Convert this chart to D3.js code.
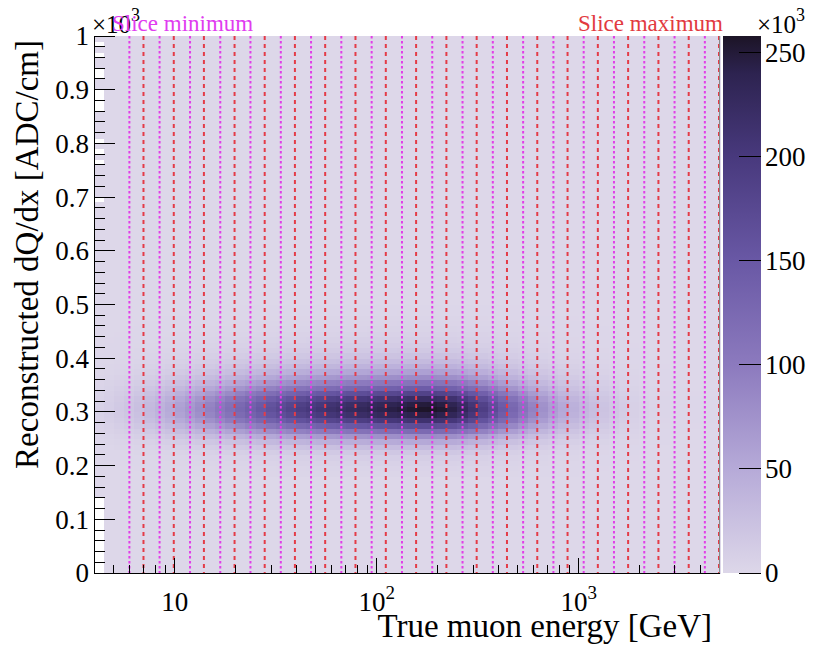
<!DOCTYPE html>
<html>
<head>
<meta charset="utf-8">
<script src="https://cdn.jsdelivr.net/npm/d3@7"></script>
<style>
  body { margin: 0; background: #fff; }
  svg { display: block; }
  svg text { font-family: "Liberation Serif", "DejaVu Serif", serif; }
</style>
</head>
<body>
<svg id="chart" width="814" height="645"></svg>
<script>
// slice boundaries [GeV]
var sliceMin = [5.96, 8.41, 11.9, 16.8, 23.7, 33.5, 47.3, 66.8, 94.4, 133.4,
                188.4, 266.1, 375.8, 530.9, 749.9, 1059, 1496, 2113, 2985, 4217];
var sliceMax = [7.08, 10.0, 14.1, 20.0, 28.2, 39.8, 56.2, 79.4, 112.2, 158.5,
                223.9, 316.2, 446.7, 631.0, 891.3, 1259, 1778, 2512, 3548, 5012];

// counts (x10^3) in the peak dQ/dx row, one per energy column (0.05 decades wide, from 10^0.6)
var energyProfile = [6, 10, 15, 20, 26, 33, 41, 50, 60, 70,
                     81, 92, 104, 116, 128, 140, 152, 163, 174, 184,
                     193, 201, 208, 215, 221, 226, 231, 236, 240, 244,
                     248, 252, 256, 257, 253, 244, 230, 212, 191, 170,
                     149, 129, 110, 92, 77, 63, 52, 43, 35, 28,
                     22, 17, 12, 8, 5, 3, 2, 1.2, 0.8, 0.5, 0.5, 0.5];

// relative shape along dQ/dx, rows of 10 ADC/cm starting at row 18 (180 ADC/cm)
var dqdxFirstRow = 18;
var dqdxShape = [0.01, 0.015, 0.025, 0.04, 0.07, 0.12, 0.2, 0.32, 0.48, 0.66,
                 0.83, 0.95, 1.0, 0.97, 0.87, 0.72, 0.56, 0.43, 0.32, 0.235,
                 0.17, 0.125, 0.09, 0.065, 0.048, 0.035, 0.025, 0.018, 0.012, 0.008,
                 0.005, 0.003];

var backgroundLevel = 0.25;
// empty rows in the lowest energy column
var emptyFirstColumn = [0, 1, 2, 3, 4, 5, 6, 7, 8, 9, 10, 11, 12, 13,
                        69, 76, 78, 80, 86, 87, 88, 89, 92, 93, 96, 98];

var zMax = 258;
var zTicks = [0, 50, 100, 150, 200, 250];
var yTicks = [0, 0.1, 0.2, 0.3, 0.4, 0.5, 0.6, 0.7, 0.8, 0.9, 1];
var xMajor = [10, 100, 1000];

// palette stops (value x10^3 -> colour)
var paletteValues = [0, 50, 100, 150, 200, 240, 258];
var paletteColors = ["#ddd7e9", "#b6aad8", "#8c7abe", "#6958a5", "#48397d", "#2d2350", "#1c1426"];

var svg = d3.select("#chart");
var pLeft = 94, pRight = 720, pTop = 36, pBottom = 573;

var x = d3.scaleLog().domain([Math.pow(10, 0.6), Math.pow(10, 3.7)]).range([pLeft, pRight]);
var y = d3.scaleLinear().domain([0, 1000]).range([pBottom, pTop]);
var z = d3.scaleLinear().domain(paletteValues).range(paletteColors).interpolate(d3.interpolateRgb).clamp(true);

// build the cells
var cells = [];
var nRows = 100;
for (var i = 0; i < energyProfile.length; i++) {
  for (var j = 0; j < nRows; j++) {
    if (i == 0 && emptyFirstColumn.indexOf(j) >= 0) continue;
    var k = j - dqdxFirstRow;
    var w = (k >= 0 && k < dqdxShape.length) ? dqdxShape[k] : 0;
    cells.push({ i: i, j: j, v: backgroundLevel + energyProfile[i] * w });
  }
}

var colX0 = function(i) { return x(Math.pow(10, 0.6 + 0.05 * i)); };

svg.append("g")
  .attr("shape-rendering", "crispEdges")
  .selectAll("rect")
  .data(cells)
  .enter().append("rect")
  .attr("x", function(d) { return colX0(d.i); })
  .attr("width", function(d) { return colX0(d.i + 1) - colX0(d.i) + 0.5; })
  .attr("y", function(d) { return y((d.j + 1) * 10); })
  .attr("height", function(d) { return y(d.j * 10) - y((d.j + 1) * 10) + 0.5; })
  .attr("fill", function(d) { return z(d.v); });

// slice lines
svg.append("g").selectAll("line")
  .data(sliceMin)
  .enter().append("line")
  .attr("x1", function(d) { return x(d); }).attr("x2", function(d) { return x(d); })
  .attr("y1", pTop).attr("y2", pBottom)
  .attr("stroke", "#e23ee8").attr("stroke-width", 2)
  .attr("stroke-dasharray", "2.5,2.5");

svg.append("g").selectAll("line")
  .data(sliceMax)
  .enter().append("line")
  .attr("x1", function(d) { return x(d) - 1; }).attr("x2", function(d) { return x(d) - 1; })
  .attr("y1", pTop).attr("y2", pBottom)
  .attr("stroke", "#e43c48").attr("stroke-width", 2)
  .attr("stroke-dasharray", "4,4");

// frame right edge
svg.append("line").attr("x1", pRight - 0.5).attr("x2", pRight - 0.5).attr("y1", pTop).attr("y2", pBottom)
  .attr("stroke", "#888").attr("stroke-width", 1);

// axes lines
var axes = svg.append("g").attr("stroke", "#000").attr("stroke-width", 1).attr("shape-rendering", "crispEdges");
axes.append("line").attr("x1", pLeft).attr("x2", pLeft).attr("y1", pTop).attr("y2", pBottom);
axes.append("line").attr("x1", pLeft).attr("x2", pRight).attr("y1", pBottom).attr("y2", pBottom);

// y ticks (inward), minor every 0.02
var yMinor = d3.range(0, 1001, 20);
axes.selectAll(".yt").data(yMinor).enter().append("line")
  .attr("x1", pLeft)
  .attr("x2", function(d) { return pLeft + (d % 100 == 0 ? 21 : 11); })
  .attr("y1", function(d) { return y(d); }).attr("y2", function(d) { return y(d); });

// x ticks (inward), log minor ticks
var xAll = x.ticks().filter(function(d) { return d > x.domain()[0] * 1.01 && d < x.domain()[1] * 0.99; });
axes.selectAll(".xt").data(xAll).enter().append("line")
  .attr("x1", function(d) { return x(d); }).attr("x2", function(d) { return x(d); })
  .attr("y1", pBottom)
  .attr("y2", function(d) { return pBottom - (xMajor.indexOf(d) >= 0 ? 15 : 8); });

// y tick labels
svg.append("g").selectAll("text").data(yTicks).enter().append("text")
  .attr("x", 89).attr("y", function(d) { return y(d * 1000); })
  .attr("dy", "0.35em").attr("text-anchor", "end")
  .attr("font-size", 27)
  .text(function(d) { return d3.format("~g")(d); });

// x tick labels
var xl = svg.append("g").selectAll("text").data(xMajor).enter().append("text")
  .attr("x", function(d) { return x(d); }).attr("y", 611)
  .attr("text-anchor", "middle").attr("font-size", 27);
xl.append("tspan").text("10");
xl.filter(function(d) { return d > 10; }).append("tspan")
  .attr("dy", -12).attr("font-size", 19)
  .text(function(d) { return Math.round(Math.log10(d)); });

// exponent marker on the y axis
var ym = svg.append("text").attr("x", 92).attr("y", 33).attr("font-size", 25);
ym.append("tspan").text("\u00d710");
ym.append("tspan").attr("dy", -12).attr("font-size", 18).text("3");

// axis titles
svg.append("text")
  .attr("x", 712).attr("y", 637).attr("text-anchor", "end").attr("font-size", 33)
  .text("True muon energy [GeV]");
svg.append("text")
  .attr("transform", "translate(38,40) rotate(-90)")
  .attr("text-anchor", "end").attr("font-size", 33)
  .text("Reconstructed dQ/dx [ADC/cm]");

// legend texts
svg.append("text").attr("x", 112).attr("y", 31).attr("font-size", 23)
  .attr("fill", "#e03cf0").text("Slice minimum");
svg.append("text").attr("x", 723).attr("y", 31).attr("font-size", 23)
  .attr("text-anchor", "end").attr("fill", "#e23a40").text("Slice maximum");

// colour bar
var cbLeft = 723, cbRight = 761;
var zs = d3.scaleLinear().domain([0, zMax]).range([pBottom, pTop]);
var grad = svg.append("defs").append("linearGradient")
  .attr("id", "pal").attr("x1", 0).attr("x2", 0).attr("y1", 1).attr("y2", 0);
grad.selectAll("stop").data(paletteValues).enter().append("stop")
  .attr("offset", function(d) { return d / zMax; })
  .attr("stop-color", function(d, i) { return paletteColors[i]; });
svg.append("rect").attr("x", cbLeft).attr("y", pTop)
  .attr("width", cbRight - cbLeft).attr("height", pBottom - pTop)
  .attr("fill", "url(#pal)");

svg.append("g").attr("stroke", "#000").attr("shape-rendering", "crispEdges")
  .selectAll("line").data(zTicks).enter().append("line")
  .attr("x1", cbRight - 22).attr("x2", cbRight)
  .attr("y1", function(d) { return zs(d); }).attr("y2", function(d) { return zs(d); });

svg.append("g").selectAll("text").data(zTicks).enter().append("text")
  .attr("x", 765).attr("y", function(d) { return zs(d); })
  .attr("dy", "0.35em").attr("font-size", 27)
  .text(function(d) { return d; });

var zm = svg.append("text").attr("x", 757).attr("y", 33).attr("font-size", 25);
zm.append("tspan").text("\u00d710");
zm.append("tspan").attr("dy", -12).attr("font-size", 18).text("3");
</script>
</body>
</html>
